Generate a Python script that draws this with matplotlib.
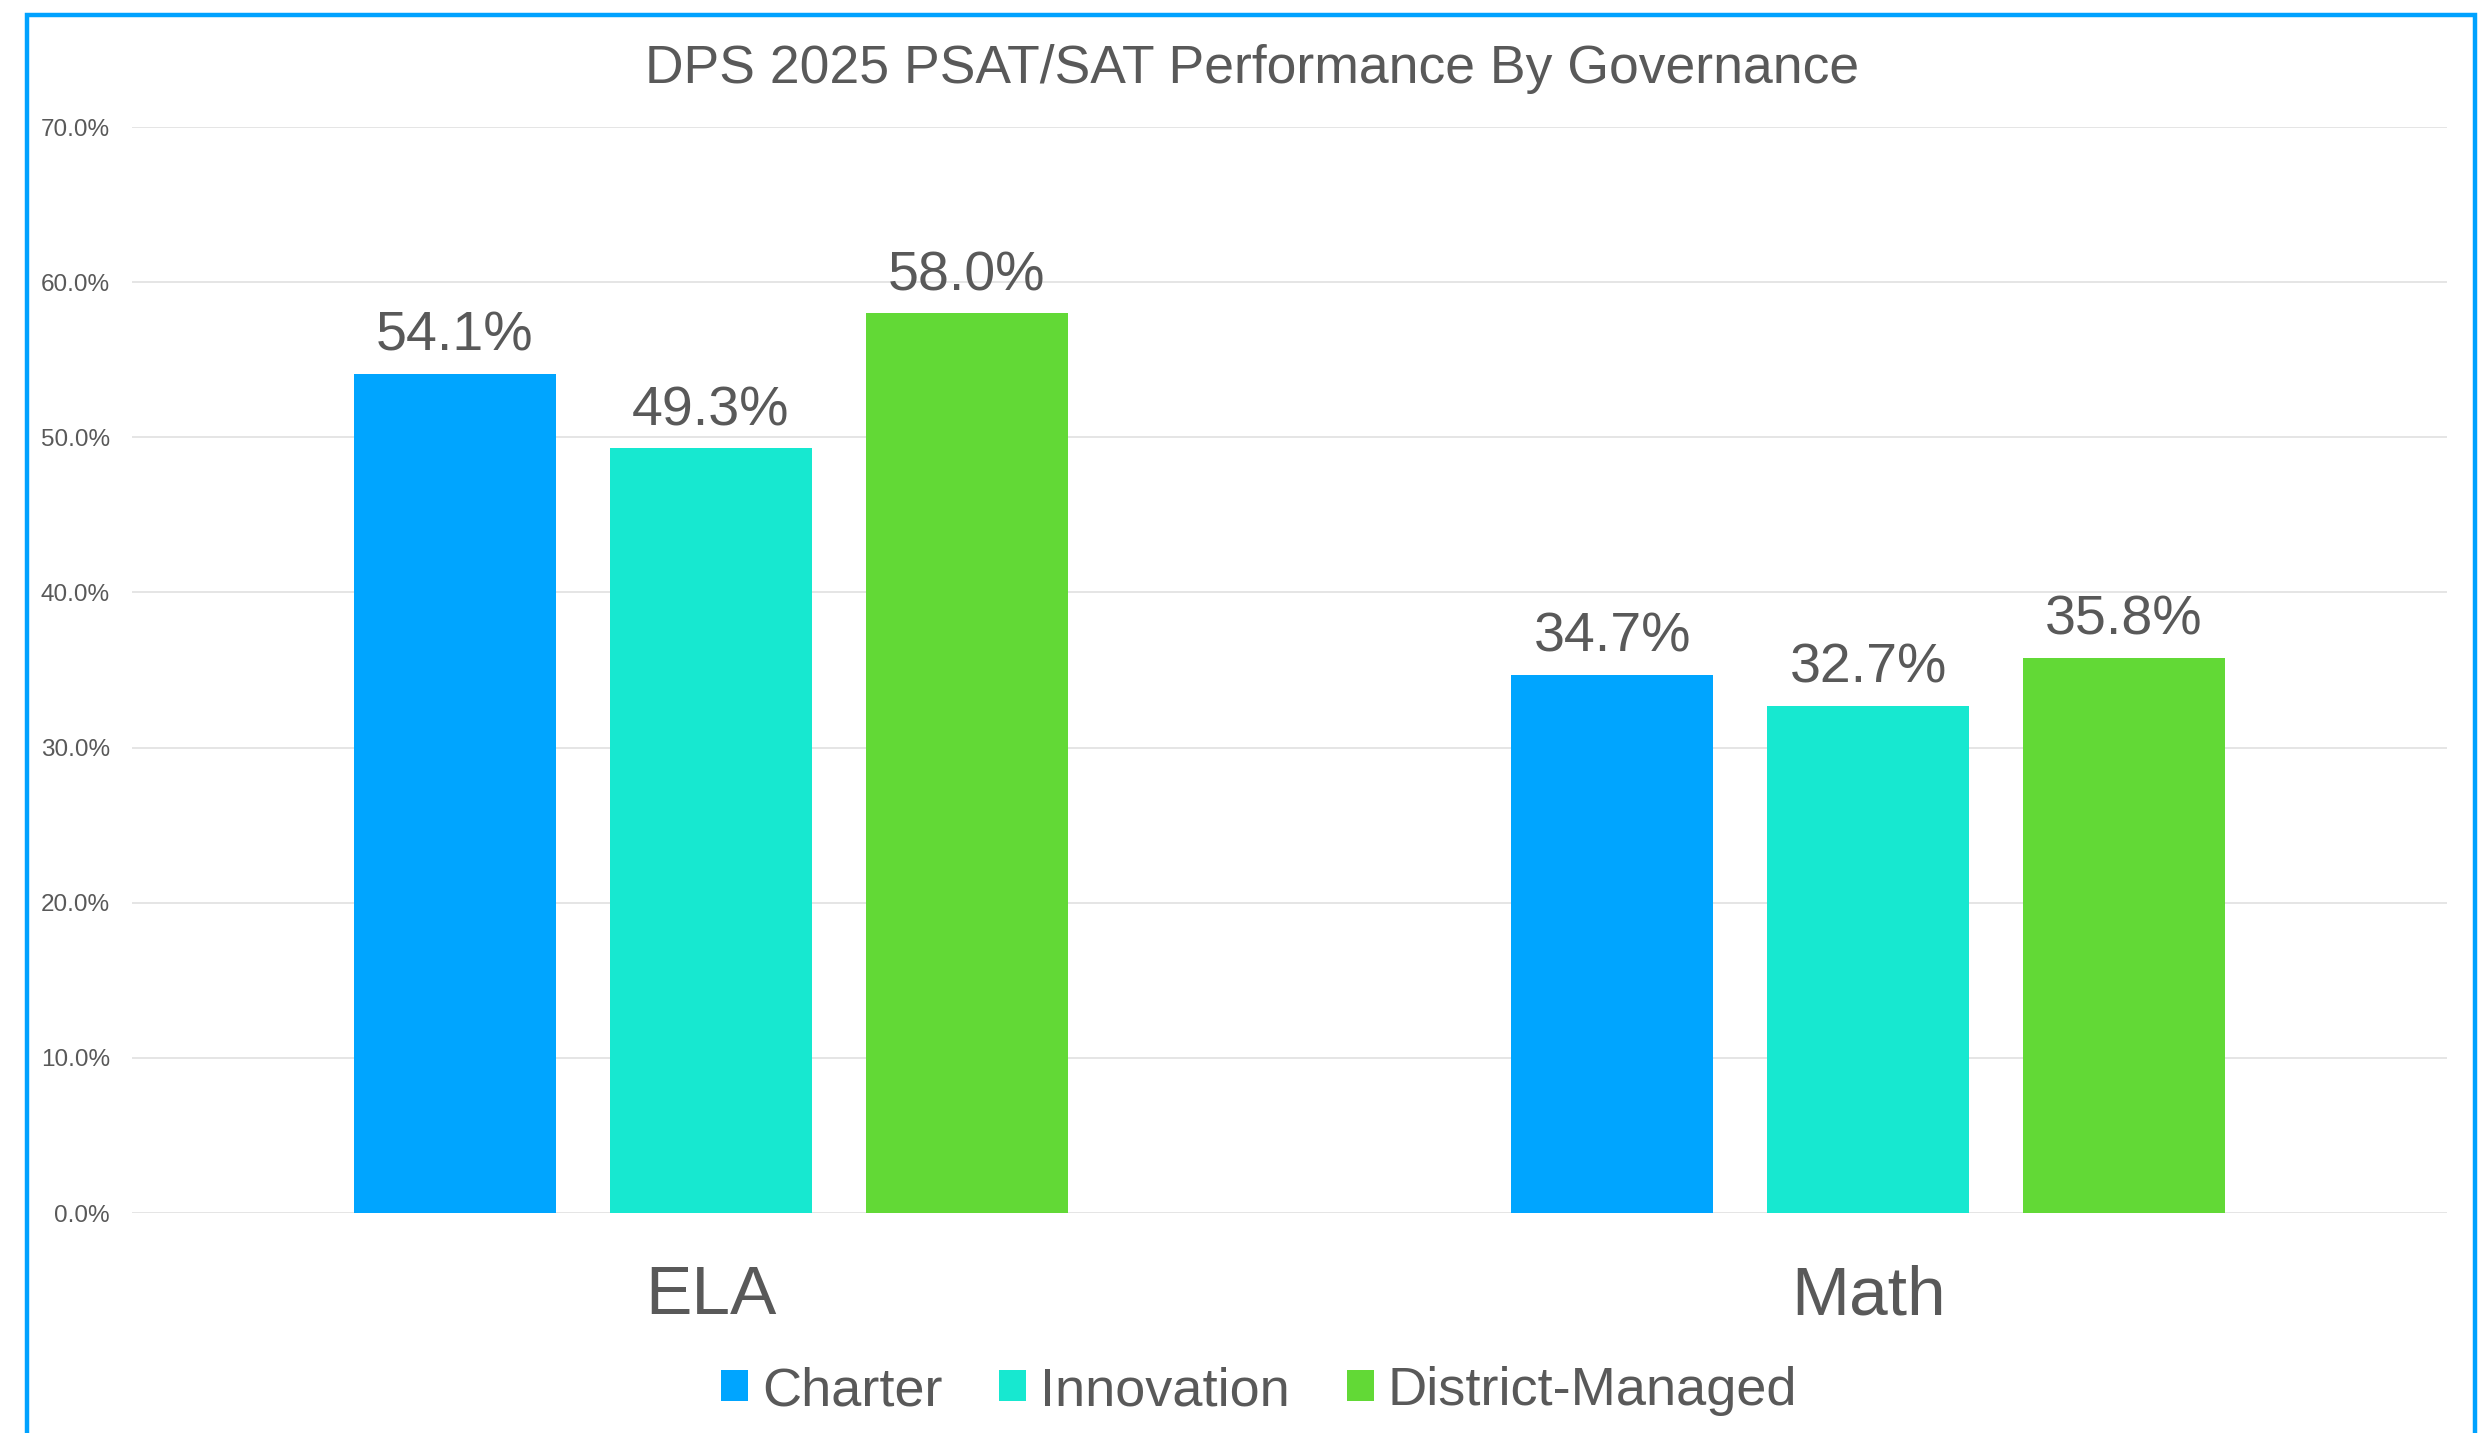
import matplotlib
matplotlib.use('agg')
import matplotlib.pyplot as plt
from matplotlib.patches import Patch, Rectangle
from matplotlib.ticker import PercentFormatter
import numpy as np

plt.rcParams['font.family'] = ['Liberation Sans', 'DejaVu Sans']

subjects = ["ELA", "Math"]
governance = ["Charter", "Innovation", "District-Managed"]
charter = [54.1, 34.7]
innovation = [49.3, 32.7]
district = [58.0, 35.8]
colors = ["#00A5FF", "#17E8D0", "#62D936"]
text_gray = "#595959"

W, H, DPI = 2490, 1433, 100
fig = plt.figure(figsize=(W / DPI, H / DPI), dpi=DPI)
ax = fig.add_axes([132 / W, 220 / H, (2447 - 132) / W, (1306 - 220) / H])

x = np.arange(len(subjects))
offset = 0.221
width = 0.1745
for i, (vals, col) in enumerate(zip([charter, innovation, district], colors)):
    bars = ax.bar(x + (i - 1) * offset, [v / 100 for v in vals], width=width,
                  color=col, zorder=3)
    for b, v in zip(bars, vals):
        ax.annotate(f"{v:.1f}%", xy=(b.get_x() + b.get_width() / 2, b.get_height()),
                    xytext=(0, 8), textcoords="offset points",
                    ha="center", va="bottom", fontsize=40, color=text_gray)

ax.set_xlim(-0.5, 1.5)
ax.set_ylim(0, 0.7)
ax.set_yticks(np.arange(0, 0.71, 0.1))
ax.yaxis.set_major_formatter(PercentFormatter(1.0, decimals=1))
ax.set_xticks(x)
ax.set_xticklabels(subjects)
ax.tick_params(axis="y", length=0, pad=16, labelsize=17.5, labelcolor=text_gray)
ax.tick_params(axis="x", length=0, pad=37, labelsize=50, labelcolor=text_gray)
ax.grid(axis="y", color="#E3E3E3", linewidth=1.3, zorder=0)
for s in ax.spines.values():
    s.set_visible(False)

fig.text(1252 / W, 1 - 69 / H, "DPS 2025 PSAT/SAT Performance By Governance",
         ha="center", va="center", fontsize=38.5, color=text_gray)

handles = [Patch(facecolor=c, edgecolor="none") for c in colors]
leg = fig.legend(handles, governance, loc="center", bbox_to_anchor=(1259 / W, 1 - 1391 / H),
                 ncol=3, frameon=False, fontsize=39, handlelength=0.5, handleheight=0.5,
                 handletextpad=0.25, columnspacing=1.05)
for t in leg.get_texts():
    t.set_color(text_gray)

# blue frame around the chart (runs off the bottom edge)
fig.patches.append(Rectangle((27 / W, -0.05), (2475 - 27) / W, 1.05 - 15 / H,
                             transform=fig.transFigure, fill=False,
                             edgecolor="#00A2FF", linewidth=3.2))

plt.savefig("out.png", dpi=DPI)
